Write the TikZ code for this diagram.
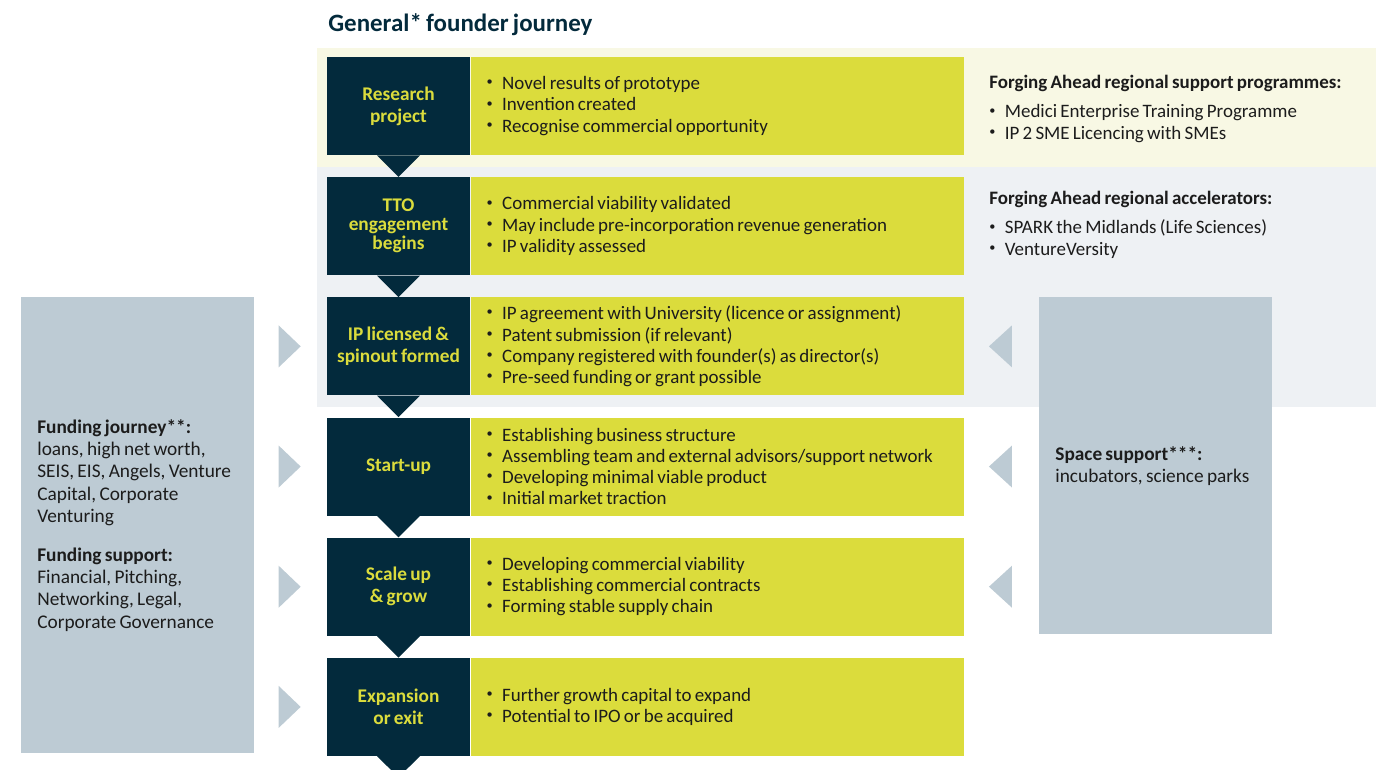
\documentclass[tikz,border=0pt]{standalone}
\usepackage{fontspec}
\setmainfont{Carlito}[WordSpace=0.75]
\usetikzlibrary{positioning,calc}
\hyphenpenalty=10000

\definecolor{navy}{RGB}{3,42,60}
\definecolor{lime}{RGB}{219,220,60}
\definecolor{cream}{RGB}{248,248,228}
\definecolor{mist}{RGB}{238,241,244}
\definecolor{slate}{RGB}{189,203,212}
\definecolor{ink}{RGB}{28,28,28}

\newcommand{\bul}{\makebox[0.31cm][l]{\raisebox{0.2em}{\fontsize{7}{7}\selectfont\textbullet}}}

\tikzset{
  natural spaces/.style={execute at begin node={\spaceskip=0pt\xspaceskip=0pt\relax}},
  stage/.style={fill=navy, text=lime, font=\fontsize{11}{12.4}\selectfont\bfseries,
    minimum width=2.86cm, minimum height=1.96cm, align=center, inner sep=0pt},
  detail/.style={fill=lime, text=ink, font=\fontsize{10.8}{12.1}\selectfont,
    minimum height=1.96cm, text width=9.22cm, inner xsep=0.32cm, inner ysep=0pt,
    align=left, natural spaces},
  panel/.style={fill=slate, text=ink, font=\fontsize{11}{12.7}\selectfont,
    text width=4.02cm, inner xsep=0.32cm, inner ysep=0pt, align=left, anchor=north west,
    natural spaces},
  note/.style={text=ink, font=\fontsize{10.8}{12.1}\selectfont, inner sep=0pt,
    align=left, anchor=north west},
  drop/.style={fill=navy},
  tick/.style={fill=slate}
}

\begin{document}
\begin{tikzpicture}[x=0.02cm, y=-0.02cm, node distance=0.43cm]
  \useasboundingbox (0,0) rectangle (1376,770);

  % background bands
  \fill[cream] (317,48) rectangle (1376,167);
  \fill[mist] (317,167) rectangle (1376,407);

  % title
  \node[anchor=west, inner sep=0pt, text=navy, font=\fontsize{14.2}{16}\selectfont\bfseries]
    (title) at (328,25) {General* founder journey};

  % journey stages
  \node[stage] (s1) at (398.5,106) {Research\\project};
  \node[stage, below=of s1] (s2) {TTO\\[-1.6pt]engagement\\[-1.6pt]begins};
  \node[stage, below=of s2] (s3) {IP licensed \&\\spinout formed};
  \node[stage, below=of s3] (s4) {Start-up};
  \node[stage, below=of s4] (s5) {Scale up\\\& grow};
  \node[stage, below=of s5] (s6) {Expansion\\or exit};

  % stage details
  \node[detail, right=0pt of s1] (d1) {\bul Novel results of prototype\\
    \bul Invention created\\\bul Recognise commercial opportunity};
  \node[detail, right=0pt of s2] (d2) {\bul Commercial viability validated\\
    \bul May include pre-incorporation revenue generation\\\bul IP validity assessed};
  \node[detail, right=0pt of s3] (d3) {\bul IP agreement with University (licence or assignment)\\
    \bul Patent submission (if relevant)\\
    \bul Company registered with founder(s) as director(s)\\
    \bul Pre-seed funding or grant possible};
  \node[detail, right=0pt of s4] (d4) {\bul Establishing business structure\\
    \bul Assembling team and external advisors/support network\\
    \bul Developing minimal viable product\\\bul Initial market traction};
  \node[detail, right=0pt of s5] (d5) {\bul Developing commercial viability\\
    \bul Establishing commercial contracts\\\bul Forming stable supply chain};
  \node[detail, right=0pt of s6] (d6) {\bul Further growth capital to expand\\
    \bul Potential to IPO or be acquired};

  % down arrows between stages
  \coordinate (tail) at ($(s6.south)+(0,21)$);
  \foreach \a/\b in {s1/s2, s2/s3, s3/s4, s4/s5, s5/s6, s6/tail}
    \fill[drop] ($(\a.south)+(-21.5,0)$) -- ($(\a.south)+(21.5,0)$) -- (\b.north) -- cycle;

  % regional support notes
  \node[note] (prog) at (989,75) {\textbf{Forging Ahead regional support programmes:}\\[4.5pt]
    \bul Medici Enterprise Training Programme\\\bul IP 2 SME Licencing with SMEs};
  \node[note] (accel) at (989,191) {\textbf{Forging Ahead regional accelerators:}\\[4.5pt]
    \bul SPARK the Midlands (Life Sciences)\\\bul VentureVersity};

  % side panels
  \node[panel, minimum height=9.12cm] (fund) at (21,297) {\textbf{Funding journey**:}\\
    loans, high net worth,\\SEIS, EIS, Angels, Venture\\Capital, Corporate\\Venturing\\[9.5pt]
    \textbf{Funding support:}\\Financial, Pitching,\\Networking, Legal,\\Corporate Governance};
  \node[panel, minimum height=6.74cm] (space) at (1039,297) {\textbf{Space support***:}\\
    incubators, science parks};

  % side pointers
  \foreach \r in {3,4,5,6}
    \fill[tick] ($(s\r.west)+(-48,-21)$) -- ($(s\r.west)+(-26,0)$) -- ($(s\r.west)+(-48,21)$) -- cycle;
  \foreach \r in {3,4,5}
    \fill[tick] ($(d\r.east)+(48,-21)$) -- ($(d\r.east)+(25,0)$) -- ($(d\r.east)+(48,21)$) -- cycle;
\end{tikzpicture}
\end{document}
